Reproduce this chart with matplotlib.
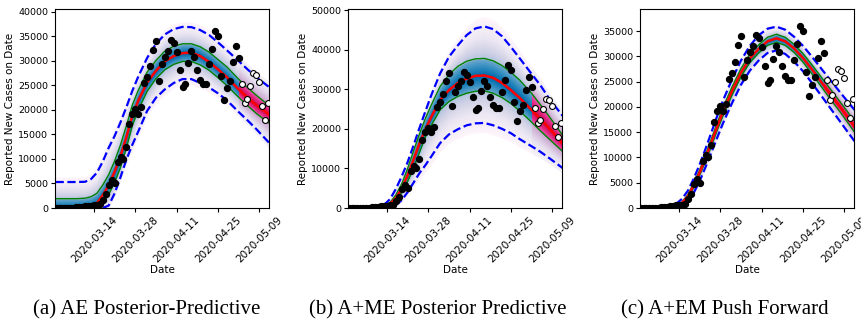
import numpy as np
import pandas as pd
import matplotlib
matplotlib.use("Agg")
import matplotlib.pyplot as plt

# observed daily cases, 2020-03-01 .. 2020-05-12 (first 63 used for fitting)
obs_dates = pd.date_range("2020-03-01", "2020-05-12")
cases = [10, 15, 25, 30, 45, 60, 90, 120, 170, 250, 330, 420, 500, 600, 650,
         800, 1700, 2850, 4700, 5700, 5000, 9400, 10500, 10000, 12400, 17100,
         19200, 20200, 19200, 20600, 25500, 26800, 28900, 32200, 34100, 25900,
         29400, 30800, 32100, 34300, 33600, 31900, 28100, 24700, 25300, 29500,
         32100, 30900, 28100, 26100, 25300, 25300, 29300, 32400, 36100, 35000,
         26900, 22100, 24400, 26000, 29700, 33100, 30700,
         25400, 21400, 22300, 24900, 27600, 27200, 25700, 20800, 17900, 21500]
n_train = 63

# model curves, days relative to 2020-03-14
base = pd.Timestamp("2020-03-14")
grid_days = [-13, -6, -3, -1, 1, 3, 5, 7, 9, 11, 13, 15, 18, 21, 24, 27, 30,
             33, 36, 39, 42, 45, 49, 52, 55, 59.5]
split_day = 49

# (a) AE posterior-predictive
a_med = [30, 80, 150, 400, 1000, 2600, 4700, 7400, 10600, 14500, 18800, 21900,
         25600, 28000, 29900, 31000, 31600, 31700, 31000, 29800, 28300, 26700,
         24200, 22500, 21000, 19000]
a_ghi = [1900, 1900, 2000, 2300, 3000, 4700, 6800, 9600, 12900, 16800, 21000,
         24000, 27700, 30100, 32000, 33000, 33500, 33500, 32900, 31800, 30300,
         28800, 26300, 24600, 23000, 20800]
a_glo = [0, 0, 10, 50, 200, 1000, 2800, 5200, 8300, 12300, 16800, 20000, 23800,
         26400, 28200, 29300, 29900, 29900, 29200, 28100, 26600, 25000, 22600,
         20900, 19300, 17200]
a_hi = [5300, 5300, 5350, 5900, 7200, 9500, 12300, 14700, 17500, 20600, 23900,
        26800, 30600, 33500, 35400, 36500, 36950, 36900, 36300, 35300, 33800,
        32200, 30000, 28300, 26700, 24600]
a_lo = [0, 0, 0, 0, 0, 0, 500, 3000, 6300, 9900, 12900, 15600, 19800, 22500,
        24200, 25500, 26300, 26300, 25500, 24600, 23400, 22000, 19600, 17900,
        16100, 13200]

# (b) A+ME posterior predictive
b_med = [20, 60, 150, 350, 1000, 2500, 4900, 8300, 12200, 16300, 19900, 23000,
         27300, 29800, 31600, 32700, 33400, 33500, 32900, 31600, 29800, 27800,
         24800, 22500, 20100, 16300]
b_ghi = [30, 80, 200, 450, 1300, 3300, 6100, 10000, 14400, 18700, 22600, 26000,
         30700, 33700, 35800, 37100, 37700, 37800, 37200, 36000, 34300, 32300,
         29000, 26100, 23100, 18400]
b_glo = [15, 40, 100, 250, 750, 1900, 3900, 6700, 10000, 14000, 17900, 20900,
         24800, 26900, 28200, 29000, 29500, 29600, 29000, 27900, 26400, 24500,
         21700, 19500, 17400, 14300]
b_hi = [50, 150, 400, 800, 2200, 4800, 8000, 11600, 15800, 20200, 24400, 28500,
        34000, 38200, 41100, 43700, 45400, 45900, 45200, 43400, 40700, 37800,
        33900, 31000, 27600, 23300]
b_lo = [0, 0, 0, 50, 250, 700, 2000, 4000, 6400, 8800, 10800, 13000, 16400,
        18600, 19900, 20900, 21400, 21500, 20900, 20000, 18900, 17400, 15600,
        14200, 12600, 10100]

# (c) A+EM push forward
c_med = [20, 60, 150, 400, 1000, 2300, 4500, 7000, 9900, 13000, 16200, 19200,
         23200, 26800, 29600, 31500, 33000, 33600, 33000, 31600, 29700, 27500,
         24300, 22000, 19700, 16100]
c_ghi = [30, 80, 200, 500, 1200, 2600, 4900, 7500, 10500, 13700, 16900, 20000,
         24000, 27600, 30400, 32300, 33800, 34400, 33800, 32400, 30600, 28400,
         25300, 23000, 20700, 17200]
c_glo = [10, 40, 100, 300, 800, 2000, 4100, 6500, 9300, 12300, 15500, 18400,
         22400, 26000, 28800, 30700, 32200, 32800, 32200, 30800, 28900, 26600,
         23400, 21000, 18700, 15000]
c_hi = [60, 150, 350, 800, 1800, 3400, 5800, 8600, 11700, 15000, 18300, 21400,
        25500, 29200, 32100, 34200, 35500, 35900, 35300, 33900, 32100, 30000,
        27000, 24800, 22600, 19400]
c_lo = [0, 20, 60, 150, 400, 1200, 3000, 5300, 8100, 11000, 14000, 16900,
        20800, 24400, 27200, 29200, 30700, 31200, 30500, 29000, 27100, 24800,
        21600, 19200, 16800, 13200]

panels = [
    ("(a) AE Posterior-Predictive", a_med, a_ghi, a_glo, a_hi, a_lo, 40600, 5000),
    ("(b) A+ME Posterior Predictive", b_med, b_ghi, b_glo, b_hi, b_lo, 50300, 10000),
    ("(c) A+EM Push Forward", c_med, c_ghi, c_glo, c_hi, c_lo, 39400, 5000),
]
lefts = [55, 348, 640]
cap_x = [147, 438, 725]


def fan(ax, x, med, ghi, glo, hi, lo, cmap, n=26):
    # nested percentile bands, outermost first
    out_hi = med + 1.2 * (hi - med)
    out_lo = np.clip(med - 1.2 * (med - lo), 0, None)
    for f in np.linspace(0, 0.96, n):
        if f < 0.12:
            w = f / 0.12
            top = out_hi + w * (hi - out_hi)
            bot = out_lo + w * (lo - out_lo)
            c = 0.02 + 0.06 * w
        elif f < 0.6:
            w = (f - 0.12) / 0.48
            top = hi + w * (ghi - hi)
            bot = lo + w * (glo - lo)
            c = 0.08 + 0.27 * w ** 1.3
        else:
            w = (f - 0.6) / 0.4
            top = ghi + w * (med - ghi)
            bot = glo + w * (med - glo)
            c = 0.52 + 0.28 * w
        ax.fill_between(x, bot, top, color=cmap(c), lw=0, zorder=1)


x = base + pd.to_timedelta(np.array(grid_days), unit="D")
k = grid_days.index(split_day)
ticks = pd.date_range("2020-03-14", periods=5, freq="14D")

fig = plt.figure(figsize=(8.62, 3.22), dpi=100)
for i, (title, med, ghi, glo, hi, lo, ytop, ystep) in enumerate(panels):
    ax = fig.add_axes([lefts[i] / 862, 1 - 208 / 322, 214 / 862, 199 / 322])
    med, ghi, glo, hi, lo = map(np.array, (med, ghi, glo, hi, lo))
    fan(ax, x[:k + 1], med[:k + 1], ghi[:k + 1], glo[:k + 1], hi[:k + 1], lo[:k + 1],
        plt.get_cmap("PuBu"))
    fan(ax, x[k:], med[k:], ghi[k:], glo[k:], hi[k:], lo[k:], plt.get_cmap("PuRd"))
    ax.plot(x, hi, "--", color="blue", lw=1.6, zorder=2)
    ax.plot(x, lo, "--", color="blue", lw=1.6, zorder=2)
    ax.plot(x, ghi, color="green", lw=1.0, zorder=2)
    ax.plot(x, glo, color="green", lw=1.0, zorder=2)
    ax.plot(x, med, color="red", lw=1.8, zorder=3)
    ax.scatter(obs_dates[:n_train], cases[:n_train], s=18, color="black", zorder=4)
    ax.scatter(obs_dates[n_train:], cases[n_train:], s=18, facecolor="white",
               edgecolor="black", lw=0.8, zorder=4)
    ax.set_xlim(base - pd.Timedelta(days=13.2), base + pd.Timedelta(days=59.3))
    ax.set_ylim(0, ytop)
    ax.set_yticks(np.arange(0, ytop, ystep))
    ax.set_xticks(ticks)
    ax.set_xticklabels([t.strftime("%Y-%m-%d") for t in ticks], rotation=45)
    ax.tick_params(axis="x", labelsize=7.5, length=3, pad=2)
    ax.tick_params(axis="y", labelsize=6.8, length=3, pad=2)
    ax.set_xlabel("Date", fontsize=7.5, labelpad=0)
    ax.set_ylabel("Reported New Cases on Date", fontsize=7.5, labelpad=2)
    fig.text(cap_x[i] / 862, 1 - 310 / 322, title, ha="center", va="center",
             family="Liberation Serif", fontsize=15)

fig.savefig("out.png", dpi=100)
